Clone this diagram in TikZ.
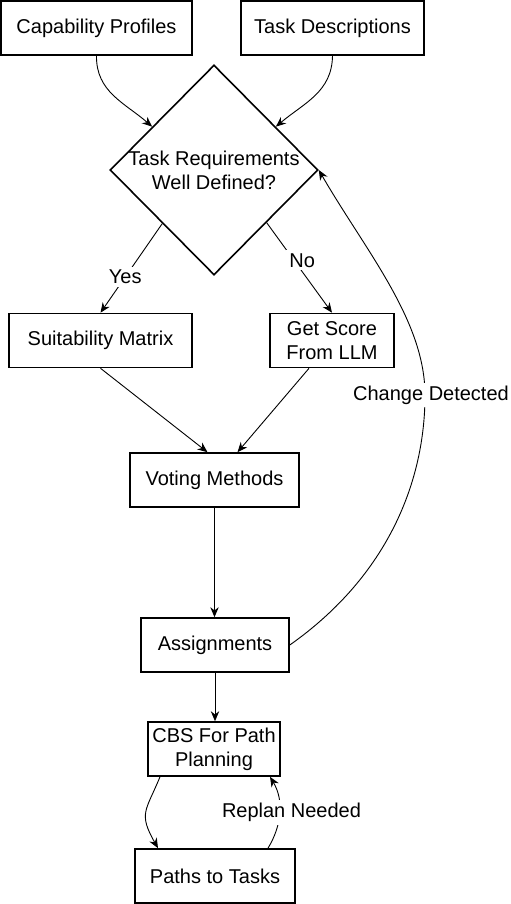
\documentclass[tikz,border=0pt]{standalone}
\usepackage{fontspec}
\setmainfont{Liberation Sans}
\usetikzlibrary{shapes.geometric,arrows.meta,calc}
\begin{document}
\begin{tikzpicture}[x=0.5pt,y=-0.5pt,
  txt/.style={font=\fontsize{10}{12}\selectfont},
  box/.style={draw, line width=0.8pt, fill=white, minimum height=27pt, align=center, inner sep=2pt, txt},
  conn/.style={line width=0.45pt, -{Stealth[length=5pt,width=4.2pt]}},
  lbl/.style={fill=white, inner sep=1.5pt, txt}]
\useasboundingbox (0,0) rectangle (510,904);
\node[box, minimum width=95.5pt] (cp) at (96.5,28) {Capability Profiles};
\node[box, minimum width=91.5pt] (td) at (332.5,28) {Task Descriptions};
\node[diamond, draw, line width=0.8pt, fill=white, minimum width=104pt, minimum height=105pt, inner sep=0pt] (dia) at (214,170) {};
\node[align=center, txt] (diat) at (dia.center) {Task Requirements\\Well Defined?};
\node[box, minimum width=91.5pt] (sm) at (100.5,340.5) {Suitability Matrix};
\node[box, minimum width=62pt] (gs) at (332,340.5) {Get Score\\From LLM};
\node[box, minimum width=84.5pt] (vm) at (214.5,480) {Voting Methods};
\node[box, minimum width=74pt] (as) at (215,645) {Assignments};
\node[box, minimum width=66pt] (cbs) at (214,749) {CBS For Path\\Planning};
\node[box, minimum width=80pt] (pt) at (215,876) {Paths to Tasks};

\draw[conn] (cp.south) .. controls (96,92) and (125,103) .. (dia.145);
\draw[conn] (td.south) .. controls (332,92) and (304,103) .. (dia.35);
\draw[conn] (dia.226.6) -- node[lbl, pos=0.6]{Yes} (sm.north);
\draw[conn] (dia.-45.5) -- node[lbl, pos=0.42, xshift=4pt]{No} (gs.north);
\draw[conn] (sm.south) -- ($(vm.north)+(-7,0)$);
\draw[conn] ($(gs.south)+(-23,0)$) -- ($(vm.north)+(23,0)$);
\draw[conn] (vm.south) -- (vm.south |- as.north);
\draw[conn] (as.south) -- (as.south |- cbs.north);
\draw[conn] (as.east) .. controls (389,575) and (425,480) .. (425,395) node[lbl, xshift=3pt]{Change Detected} .. controls (425,320) and (365,250) .. (dia.east);
\draw[conn] ($(cbs.south)+(-54,0)$) .. controls (146,811) and (138,813) .. ($(pt.north)+(-57,0)$);
\draw[conn] ($(pt.north)+(53,0)$) .. controls (282,825) and (284,800) .. ($(cbs.south)+(56,0)$) node[lbl, pos=0.5, xshift=6pt]{Replan Needed};
\end{tikzpicture}
\end{document}
